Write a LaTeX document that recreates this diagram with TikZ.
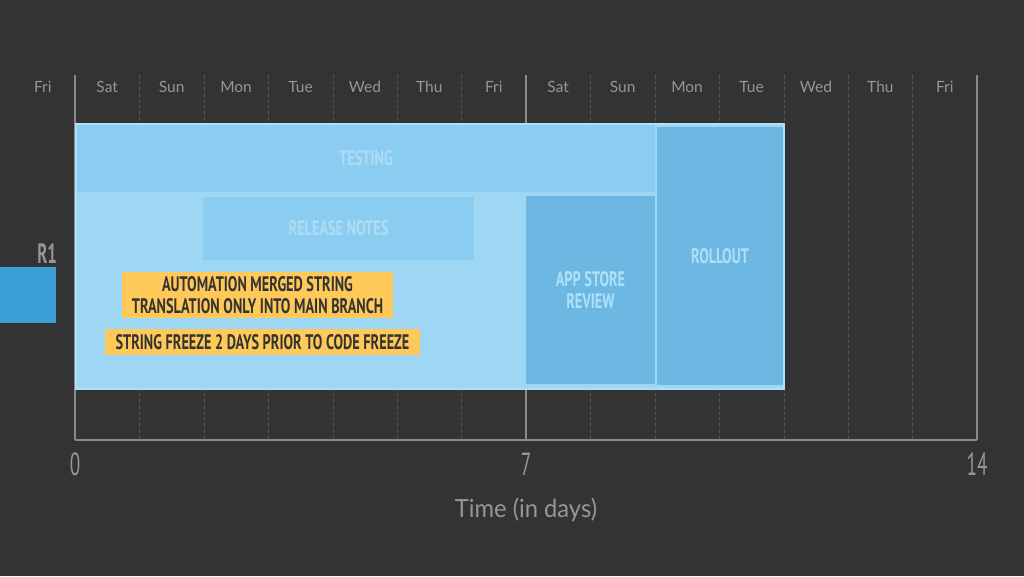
\documentclass[tikz,border=0pt]{standalone}
\usepackage{fontspec}
\setmainfont{Lato}
\newfontfamily\condfont[FakeStretch=0.68]{PT Sans}
\newfontfamily\numfont[FakeStretch=0.6]{PT Sans}
\newfontfamily\axisfont[FakeStretch=0.95]{Lato}
\definecolor{slate}{HTML}{333333}
\definecolor{gridsolid}{HTML}{8A8A8A}
\definecolor{griddash}{HTML}{525252}
\definecolor{daygray}{HTML}{969696}
\definecolor{skylight}{HTML}{9DD7F4}
\definecolor{skyedge}{HTML}{AEE0F7}
\definecolor{skymid}{HTML}{8BCDF0}
\definecolor{skydeep}{HTML}{6CB8E3}
\definecolor{skytext}{HTML}{ACDDF4}
\definecolor{notegold}{HTML}{FFC95A}
\definecolor{barblue}{HTML}{3AA0D5}
\begin{document}
\begin{tikzpicture}[x=1pt,y=-1pt]
	\tikzstyle{every node}=[inner sep=0pt,outer sep=0pt]
	\tikzstyle{daylabel}=[text=daygray,font=\fontsize{15.5}{15.5}\selectfont]
	\tikzstyle{phase}=[draw=none,align=center,text=skytext,
		font=\condfont\bfseries\fontsize{21}{22}\selectfont]
	\tikzstyle{longphase}=[phase,fill=skymid]
	\tikzstyle{shortphase}=[phase,fill=skydeep,text=skyedge]
	\tikzstyle{note}=[fill=notegold,align=center,text=slate,
		font=\condfont\bfseries\fontsize{21}{22}\selectfont]
	\tikzstyle{ticknum}=[text=daygray,font=\numfont\fontsize{32}{32}\selectfont]
	% background
	\fill[slate] (0,0) rectangle (1024,576);
	% day grid
	\foreach \d in {1,...,6,8,9,...,13}
		\draw[griddash,dashed,dash pattern=on 4pt off 2pt] (75+64.43*\d,75) -- (75+64.43*\d,440);
	\foreach \d in {0,7,14}
		\draw[gridsolid,line width=1.2pt] (75+64.43*\d,75) -- (75+64.43*\d,440);
	\draw[gridsolid,line width=1.5pt] (75,440) -- (977,440);
	\foreach \d/\name [count=\i] in {-1/Fri,0/Sat,1/Sun,2/Mon,3/Tue,4/Wed,5/Thu,6/Fri,
		7/Sat,8/Sun,9/Mon,10/Tue,11/Wed,12/Thu,13/Fri}
		\node[daylabel] (day\i) at (75+64.43*\d+32.2,87) {\name};
	% release R1
	\node[fill=skylight,draw=skyedge,line width=2pt,minimum width=708pt,
		minimum height=265pt] (release) at (430,256.5) {};
	\node[longphase,minimum width=578pt,minimum height=67pt] (testing) at (366,158.5) {TESTING};
	\node[longphase,minimum width=271pt,minimum height=63pt] (notes) at (338.5,228.5) {RELEASE NOTES};
	\node[shortphase,minimum width=129pt,minimum height=188pt] (review) at (590.5,290) {APP STORE\\REVIEW};
	\node[shortphase,minimum width=126pt,minimum height=258pt,text depth=0pt] (rollout) at (720,256) {ROLLOUT};
	\node[note,minimum width=271pt,minimum height=46pt] (automation) at (257.5,295)
		{AUTOMATION MERGED STRING\\TRANSLATION ONLY INTO MAIN BRANCH};
	\node[note,minimum width=315pt,minimum height=26pt] (freeze) at (262.5,342)
		{STRING FREEZE 2 DAYS PRIOR TO CODE FREEZE};
	\fill[barblue] (0,267) rectangle (56,323);
	\node[anchor=east,text=daygray,font=\numfont\bfseries\fontsize{28}{28}\selectfont] (r1) at (57,254) {R1};
	% axis
	\node[ticknum] (t0) at (75,464) {0};
	\node[ticknum] (t7) at (526,464) {7};
	\node[ticknum] (t14) at (977,464) {14};
	\node[text=daygray,font=\axisfont\fontsize{25}{25}\selectfont] (xlabel) at (526,510) {Time (in days)};
\end{tikzpicture}
\end{document}
